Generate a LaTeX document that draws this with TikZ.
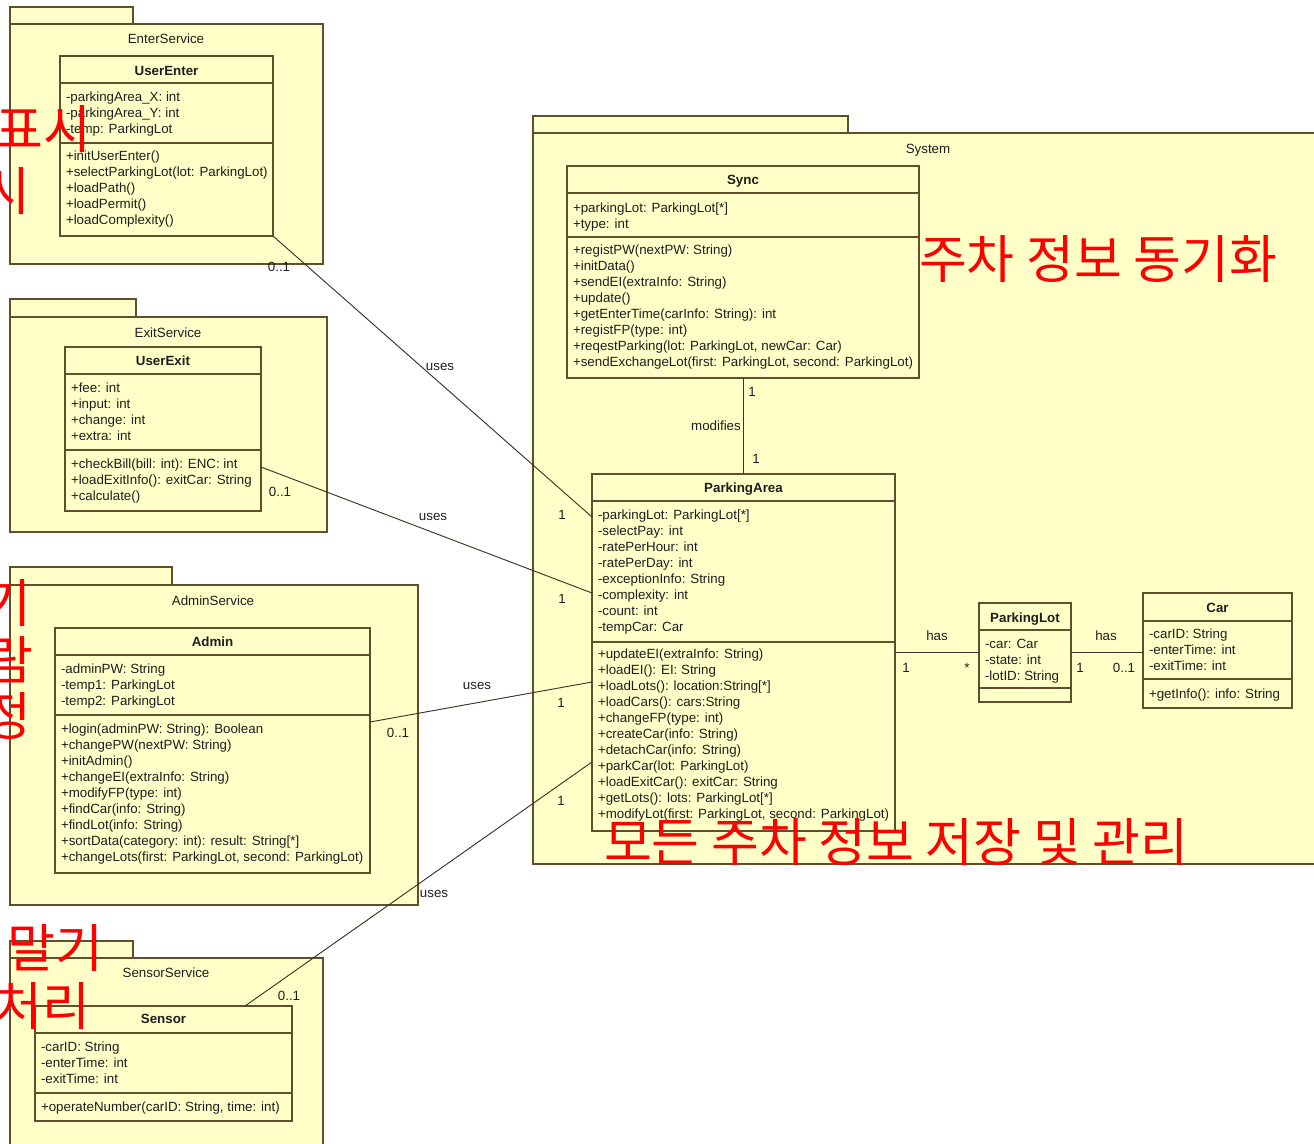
\documentclass[tikz,border=0pt]{standalone}
\usepackage{fontspec}
\setmainfont{Liberation Sans}
\newfontfamily\krfont{Noto Sans CJK KR}
\usetikzlibrary{calc}
\definecolor{pkgfill}{RGB}{255,255,200}
\definecolor{umlborder}{RGB}{98,78,44}
\definecolor{linkcol}{RGB}{60,50,40}
\definecolor{txtcol}{RGB}{30,30,30}
\definecolor{redtxt}{RGB}{255,0,0}
\def\upx{0.75pt}
\tikzset{
 pkg/.style={draw=umlborder, fill=pkgfill, line width=1pt},
 cls/.style={draw=umlborder, fill=pkgfill, line width=1pt, inner sep=0pt, outer sep=0pt, rectangle, anchor=north west},
 sep/.style={draw=umlborder, line width=1pt},
 txt/.style={font=\fontsize{10}{12}\selectfont, text=txtcol, inner sep=0pt, outer sep=0pt},
 cname/.style={txt, font=\fontsize{10}{12}\selectfont\bfseries, anchor=base},
 link/.style={draw=linkcol, line width=0.7pt},
 lbl/.style={txt, anchor=base},
 krtxt/.style={font=\krfont\fontsize{39}{46}\selectfont, text=redtxt, inner sep=0pt, outer sep=0pt},
}
\newcommand\mlines[4]{\foreach \t [count=\i from 0] in {#4}{\node[txt, anchor=base west] (#1\i) at ({#2},{#3+16*\i}) {\t};}}
\begin{document}
\begin{tikzpicture}[x=0.75pt,y=-0.75pt]
\useasboundingbox (0,0) rectangle (1314,1143);
\fill[white] (0,0) rectangle (1314,1143);
\begin{scope}
\clip (0,0) rectangle (1314,1143);
% ---------- packages
\draw[pkg] (10,7) rectangle (133,24);
\draw[pkg] (10,24) rectangle (323,264);
\node[lbl] (enterlbl) at (166,43) {EnterService};
\draw[pkg] (10,299) rectangle (136,317);
\draw[pkg] (10,317) rectangle (327,532);
\node[lbl] (exitlbl) at (168,337) {ExitService};
\draw[pkg] (10,567) rectangle (172,585);
\draw[pkg] (10,585) rectangle (418,905);
\node[lbl] (adminlbl) at (213,605) {AdminService};
\draw[pkg] (10,941) rectangle (133,958);
\draw[pkg] (10,958) rectangle (323,1160);
\node[lbl] (sensorlbl) at (166,977) {SensorService};
\draw[pkg] (533,116) rectangle (848,133);
\draw[pkg] (533,133) rectangle (1330,864);
\node[lbl] (syslbl) at (928,153) {System};
% ---------- UserEnter
\node[cls, minimum width=213*\upx, minimum height=180*\upx] (userenter) at (60,56) {};
\draw[sep] (60,83) -- (273,83); \draw[sep] (60,143) -- (273,143);
\node[cname] (uename) at (166.5,75) {UserEnter};
\mlines{uea}{66}{101}{-parkingArea\_X: int, -parkingArea\_Y: int, -temp: ParkingLot}
\mlines{uem}{66}{160}{+initUserEnter(), +selectParkingLot(lot: ParkingLot), +loadPath(), +loadPermit(), +loadComplexity()}
% ---------- UserExit
\node[cls, minimum width=196*\upx, minimum height=164*\upx] (userexit) at (65,347) {};
\draw[sep] (65,374) -- (261,374); \draw[sep] (65,450) -- (261,450);
\node[cname] (uxname) at (163,365) {UserExit};
\mlines{uxa}{71}{392}{+fee: int, +input: int, +change: int, +extra: int}
\mlines{uxm}{71}{468}{+checkBill(bill: int): ENC: int, +loadExitInfo(): exitCar: String, +calculate()}
% ---------- Admin
\node[cls, minimum width=315*\upx, minimum height=245*\upx] (admin) at (55,628) {};
\draw[sep] (55,655) -- (370,655); \draw[sep] (55,715) -- (370,715);
\node[cname] (adname) at (212.5,646) {Admin};
\mlines{ada}{61}{673}{-adminPW: String, -temp1: ParkingLot, -temp2: ParkingLot}
\mlines{adm}{61}{733}{+login(adminPW: String): Boolean, +changePW(nextPW: String), +initAdmin(), +changeEI(extraInfo: String), +modifyFP(type: int), +findCar(info: String), +findLot(info: String), +sortData(category: int): result: String[*], {+changeLots(first: ParkingLot, second: ParkingLot)}}
% ---------- Sensor
\node[cls, minimum width=257*\upx, minimum height=115*\upx] (sensor) at (35,1006) {};
\draw[sep] (35,1033) -- (292,1033); \draw[sep] (35,1093) -- (292,1093);
\node[cname] (snname) at (163.5,1023) {Sensor};
\mlines{sna}{41}{1051}{-carID: String, -enterTime: int, -exitTime: int}
\mlines{snm}{41}{1111}{{+operateNumber(carID: String, time: int)}}
% ---------- Sync
\node[cls, minimum width=352*\upx, minimum height=212*\upx] (sync) at (567,166) {};
\draw[sep] (567,193) -- (919,193); \draw[sep] (567,237) -- (919,237);
\node[cname] (syname) at (743,184) {Sync};
\mlines{sya}{573}{212}{+parkingLot: ParkingLot[*], +type: int}
\mlines{sym}{573}{254}{+registPW(nextPW: String), +initData(), +sendEI(extraInfo: String), +update(), +getEnterTime(carInfo: String): int, +registFP(type: int), {+reqestParking(lot: ParkingLot, newCar: Car)}, {+sendExchangeLot(first: ParkingLot, second: ParkingLot)}}
% ---------- ParkingArea
\node[cls, minimum width=303*\upx, minimum height=357*\upx] (parkingarea) at (592,474) {};
\draw[sep] (592,501) -- (895,501); \draw[sep] (592,642) -- (895,642);
\node[cname] (paname) at (743.5,492) {ParkingArea};
\mlines{paa}{598}{519}{-parkingLot: ParkingLot[*], -selectPay: int, -ratePerHour: int, -ratePerDay: int, -exceptionInfo: String, -complexity: int, -count: int, -tempCar: Car}
\mlines{pam}{598}{658}{+updateEI(extraInfo: String), +loadEI(): EI: String, +loadLots(): location:String[*], +loadCars(): cars:String, +changeFP(type: int), +createCar(info: String), +detachCar(info: String), +parkCar(lot: ParkingLot), +loadExitCar(): exitCar: String, +getLots(): lots: ParkingLot[*], {+modifyLot(first: ParkingLot, second: ParkingLot)}}
% ---------- ParkingLot
\node[cls, minimum width=92*\upx, minimum height=99*\upx] (parkinglot) at (979,603) {};
\draw[sep] (979,630) -- (1071,630); \draw[sep] (979,688) -- (1071,688);
\node[cname] (plname) at (1025,622) {ParkingLot};
\mlines{pla}{985}{648}{-car: Car, -state: int, -lotID: String}
% ---------- Car
\node[cls, minimum width=149*\upx, minimum height=115*\upx] (car) at (1143,593) {};
\draw[sep] (1143,621) -- (1292,621); \draw[sep] (1143,679) -- (1292,679);
\node[cname] (crname) at (1217.5,612) {Car};
\mlines{cra}{1149}{638}{-carID: String, -enterTime: int, -exitTime: int}
\mlines{crm}{1149}{698}{+getInfo(): info: String}
% ---------- connectors
\draw[link] (userenter.south east) -- ($(parkingarea.north west)+(0,43)$);
\draw[link] ($(userexit.north east)+(0,120)$) -- ($(parkingarea.north west)+(0,119)$);
\draw[link] ($(admin.north east)+(0,94)$) -- ($(parkingarea.north west)+(0,208)$);
\draw[link] ($(sensor.north west)+(210,0)$) -- ($(parkingarea.north west)+(0,288)$);
\draw[link] (sync.south) -- (sync.south |- parkingarea.north);
\draw[link] ($(parkingarea.north east)+(0,178)$) -- ($(parkinglot.north west)+(0,49)$);
\draw[link] ($(parkinglot.north east)+(0,49)$) -- ($(car.north west)+(0,59)$);
% ---------- connector labels
\node[lbl] (l1) at (440,370) {uses};
\node[lbl] (l2) at (279,271) {0..1};
\node[lbl] (l3) at (562,519) {1};
\node[lbl] (l4) at (433,520) {uses};
\node[lbl] (l5) at (280,496) {0..1};
\node[lbl] (l6) at (562,603) {1};
\node[lbl] (l7) at (477,689) {uses};
\node[lbl] (l8) at (398,737) {0..1};
\node[lbl] (l9) at (561,707) {1};
\node[lbl] (l10) at (434,897) {uses};
\node[lbl] (l11) at (289,1000) {0..1};
\node[lbl] (l12) at (561,805) {1};
\node[lbl] (l13) at (752,396) {1};
\node[lbl] (l14) at (716,430) {modifies};
\node[lbl] (l15) at (756,463) {1};
\node[lbl] (l16) at (937,640) {has};
\node[lbl] (l17) at (906,672) {1};
\node[lbl] (l18) at (967,672) {*};
\node[lbl] (l19) at (1106,640) {has};
\node[lbl] (l20) at (1080,672) {1};
\node[lbl] (l21) at (1124,672) {0..1};
% ---------- red annotations
\node[krtxt, anchor=base west] (k1) at (919,278) {주차 정보 동기화};
\node[krtxt, anchor=base west] (k2) at (604,861) {모든 주차 정보 저장 및 관리};
\node[krtxt, anchor=base east] (k3) at (91,148) {표시};
\node[krtxt, anchor=base east] (k4) at (30,210) {시};
\node[krtxt, anchor=base east] (k5) at (31,622) {기};
\node[krtxt, anchor=base east] (k6) at (33,679) {람};
\node[krtxt, anchor=base east] (k7) at (31,735) {정};
\node[krtxt, anchor=base east] (k8) at (103,967) {말기};
\node[krtxt, anchor=base east] (k9) at (90,1025) {처리};
\end{scope}
\end{tikzpicture}
\end{document}
